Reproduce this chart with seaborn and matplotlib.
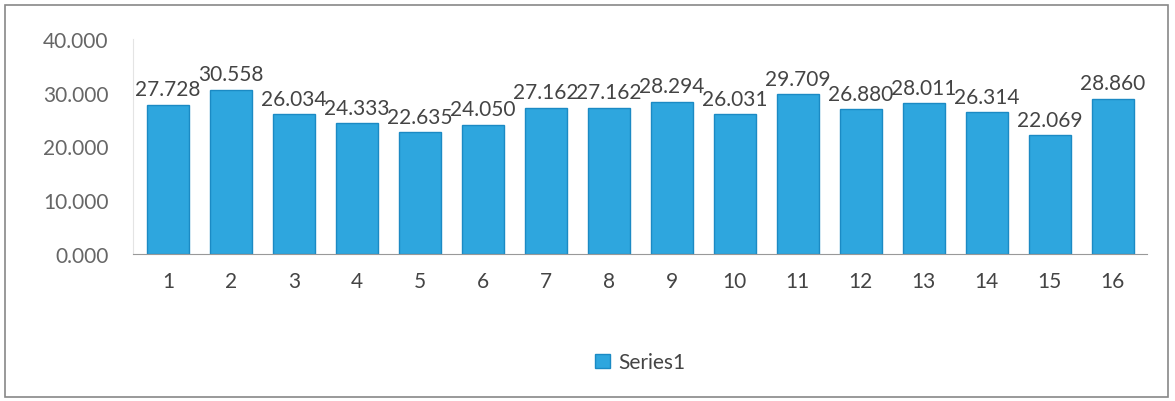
import pandas as pd
import matplotlib.pyplot as plt
import seaborn as sns

# values
categories = [str(i) for i in range(1, 17)]
values = [27.728, 30.558, 26.034, 24.333, 22.635, 24.050, 27.162, 27.162,
          28.294, 26.031, 29.709, 26.880, 28.011, 26.314, 22.069, 28.860]
y_ticks = [0, 10, 20, 30, 40]


def visualize():
    df = pd.DataFrame({'Category': categories, 'Value': values})

    sns.set_style('white')
    plt.rcParams['font.family'] = ['Lato', 'DejaVu Sans']

    fig = plt.figure(figsize=(11.75, 4.02), dpi=100)
    ax = fig.add_axes([0.1135, 0.366, 0.863, 0.535])

    sns.barplot(x='Category', y='Value', data=df, color='#2ea6de', saturation=1,
                edgecolor='#1b8ac4', linewidth=1, width=0.66, ax=ax,
                label='Series1')

    # data labels above each bar
    for i, v in enumerate(values):
        ax.text(i, v + 1.0, f'{v:.3f}', ha='center', va='bottom',
                fontsize=15, color='#444444')

    ax.set_ylim(0, 40)
    ax.set_yticks(y_ticks)
    ax.set_yticklabels([f'{t:.3f}' for t in y_ticks], fontsize=15, color='#666666')
    ax.tick_params(axis='x', labelsize=15, colors='#444444', pad=12, length=0)
    ax.tick_params(axis='y', length=0, pad=18)
    ax.set_xlabel('')
    ax.set_ylabel('')
    ax.set_xlim(-0.55, 15.55)

    for side in ['top', 'right']:
        ax.spines[side].set_visible(False)
    ax.spines['left'].set_color('#e4e4e4')
    ax.spines['bottom'].set_color('#999999')

    ax.legend(loc='upper center', bbox_to_anchor=(0.5, -0.37), frameon=False,
              fontsize=15, handlelength=0.7, handleheight=0.7, handletextpad=0.4,
              labelcolor='#444444')

    # chart border
    fig.patches.append(plt.Rectangle((0.004, 0.01), 0.99, 0.975, transform=fig.transFigure,
                                     fill=False, edgecolor='#888888', linewidth=1.2))

    fig.savefig('out.png', dpi=100)


if __name__ == '__main__':
    visualize()
